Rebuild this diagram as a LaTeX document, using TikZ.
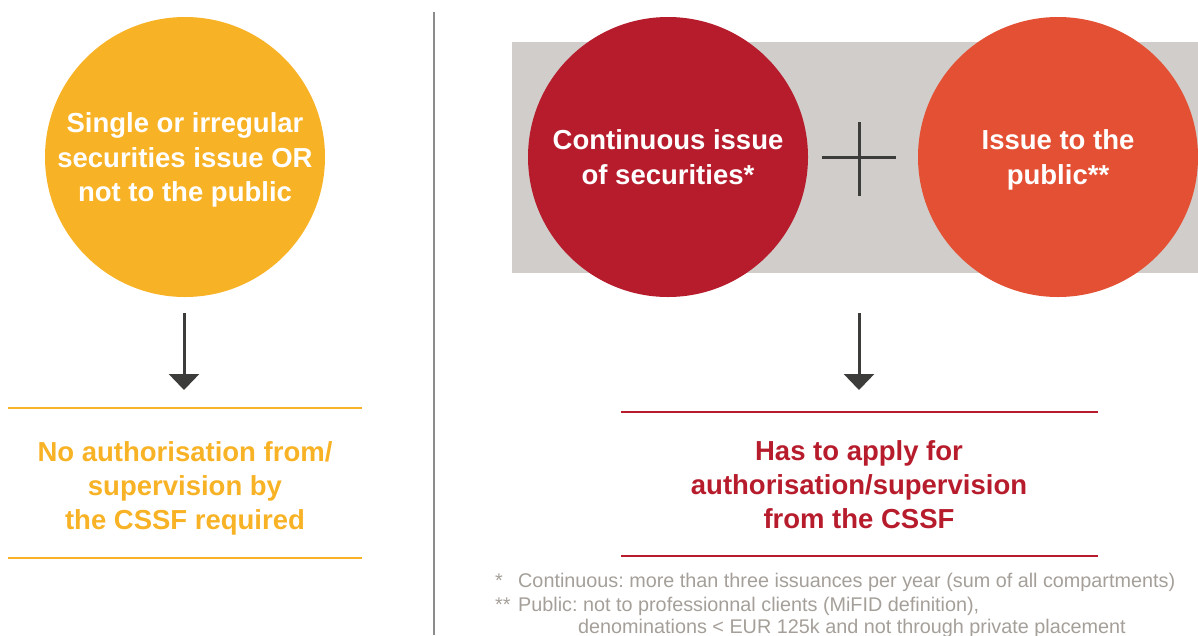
\documentclass[tikz,border=0pt]{standalone}
\usepackage{fontspec}
\setmainfont{Liberation Sans}
\usetikzlibrary{arrows.meta}

\definecolor{cssfyellow}{HTML}{F8B225}
\definecolor{cssfred}{HTML}{B71C2C}
\definecolor{cssforange}{HTML}{E35034}
\definecolor{panelgray}{HTML}{D1CDCA}
\definecolor{arrowgray}{HTML}{3C3C3B}
\definecolor{notegray}{HTML}{A59F99}

\tikzset{
  bubble/.style={circle, minimum size=280pt, inner sep=0pt, text=white, align=center,
    font=\fontsize{27.5}{34.5}\selectfont\bfseries},
  verdict/.style={align=center, font=\fontsize{27.5}{34}\selectfont\bfseries},
  downarrow/.style={draw=arrowgray, line width=3pt, shorten <=16pt,
    -{Triangle[width=30pt,length=16pt]}},
  footnote/.style={anchor=base west, inner sep=0pt, text=notegray,
    font=\fontsize{19.8}{24}\selectfont\frenchspacing}
}

\begin{document}
\begin{tikzpicture}[x=1pt, y=-1pt]
  \useasboundingbox (0,0) rectangle (1198,635);
  \clip (0,0) rectangle (1198,635);

  % left: no authorisation
  \fill[cssfyellow] (185,157) circle[radius=140pt];
  \node[bubble] (single) at (185,160)
    {Single or irregular\\securities issue OR\\not to the public};
  \coordinate (leftfoot) at (184,297);
  \coordinate (lefttip) at (184,390);
  \draw[downarrow] (leftfoot) -- (lefttip);
  \draw[cssfyellow, line width=2.5pt] (8,408) -- (362,408);
  \node[verdict, text=cssfyellow] (noauth) at (185,488)
    {No authorisation from/\\supervision by\\the CSSF required};
  \draw[cssfyellow, line width=2.5pt] (8,558) -- (362,558);

  % separator
  \draw[gray!90, line width=1.6pt] (434,12) -- (434,635);

  % right: authorisation needed
  \fill[panelgray] (512,42) rectangle (1198,273);
  \node[bubble, fill=cssfred] (continuous) at (668,157)
    {Continuous issue\\of securities*};
  \fill[cssforange] (1058,157) circle[radius=140pt];
  \node[bubble] (public) at (1058,160)
    {Issue to the\\public**};
  \draw[arrowgray, line width=3pt] (822,157) -- (896,157) (859,122) -- (859,196);

  \coordinate (righttip) at (859,390);
  \draw[downarrow] (continuous.south -| righttip) -- (righttip);
  \draw[cssfred, line width=2.5pt] (621,412) -- (1098,412);
  \node[verdict, text=cssfred] (apply) at (859,485)
    {Has to apply for\\authorisation/supervision\\from the CSSF};
  \draw[cssfred, line width=2.5pt] (621,556) -- (1098,556);

  % footnotes
  \node[footnote] (noteone) at (495,587)
    {\makebox[23pt][l]{*}Continuous: more than three issuances per year (sum of all compartments)};
  \node[footnote] (notetwo) at (495,611)
    {\makebox[23pt][l]{**}Public: not to professionnal clients (MiFID definition),};
  \node[footnote] (notethree) at (578,633)
    {denominations < EUR 125k and not through private placement};
\end{tikzpicture}
\end{document}
